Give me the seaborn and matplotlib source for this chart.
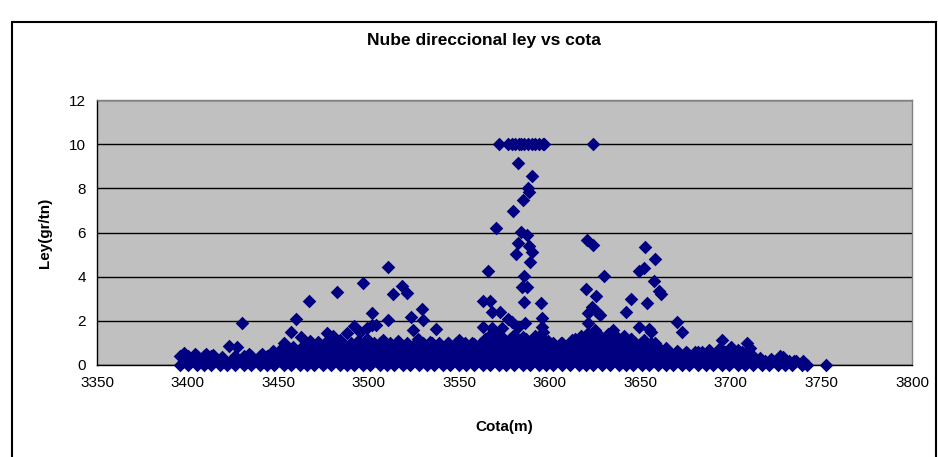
import matplotlib
matplotlib.use("Agg")
import matplotlib.pyplot as plt
import seaborn as sns
import pandas as pd
from matplotlib.patches import Rectangle

# ----------------------------------------------------------
# Datos: cota (m) y ley (gr/tn)
# ----------------------------------------------------------

# nube densa cerca de cero, por niveles de ley
band_levels = [0.0, 0.2, 0.4, 0.6, 0.8, 1.0, 1.2]
band0_x = [3396, 3400, 3405, 3409, 3413, 3418, 3422, 3426, 3431, 3435, 3440, 3444, 3448, 3453,
           3457, 3462, 3466, 3470, 3475, 3479, 3484, 3488, 3492, 3497, 3501, 3506, 3510, 3514,
           3519, 3523, 3528, 3532, 3536, 3541, 3545, 3550, 3554, 3558, 3563, 3567, 3572, 3576,
           3580, 3585, 3589, 3594, 3598, 3602, 3607, 3611, 3616, 3620, 3624, 3629, 3633, 3638,
           3642, 3646, 3651, 3655, 3660, 3664, 3668, 3673, 3677, 3682, 3686, 3690, 3695, 3699,
           3704, 3708, 3712, 3717, 3721, 3726, 3730, 3734, 3739, 3742]
band1_x = [3398, 3402, 3407, 3411, 3415, 3420, 3424, 3429, 3433, 3437, 3442, 3446, 3451, 3455,
           3459, 3464, 3468, 3473, 3477, 3481, 3486, 3490, 3495, 3499, 3503, 3508, 3512, 3517,
           3521, 3525, 3530, 3534, 3539, 3543, 3547, 3552, 3556, 3561, 3565, 3569, 3574, 3578,
           3583, 3587, 3591, 3596, 3600, 3605, 3609, 3613, 3618, 3622, 3627, 3631, 3635, 3640,
           3644, 3649, 3653, 3657, 3662, 3666, 3671, 3675, 3679, 3684, 3688, 3693, 3697, 3701,
           3706, 3710, 3715, 3719, 3723, 3728, 3732, 3736, 3740]
band2_x = [3396, 3400, 3405, 3409, 3413, 3426, 3431, 3435, 3440, 3444, 3448, 3453, 3457, 3462,
           3466, 3470, 3475, 3479, 3484, 3488, 3492, 3497, 3501, 3506, 3510, 3514, 3519, 3523,
           3528, 3532, 3536, 3541, 3545, 3550, 3554, 3558, 3563, 3567, 3572, 3576, 3580, 3585,
           3589, 3594, 3598, 3602, 3607, 3611, 3616, 3620, 3624, 3629, 3633, 3638, 3642, 3646,
           3651, 3655, 3660, 3664, 3668, 3673, 3677, 3682, 3686, 3690, 3695, 3699, 3704, 3708,
           3712, 3727]
band3_x = [3451, 3455, 3460, 3464, 3468, 3473, 3477, 3482, 3486, 3490, 3495, 3499, 3504, 3508,
           3512, 3517, 3521, 3526, 3530, 3534, 3539, 3543, 3548, 3552, 3556, 3561, 3565, 3570,
           3574, 3578, 3583, 3587, 3592, 3596, 3600, 3605, 3609, 3614, 3618, 3622, 3627, 3631,
           3636, 3640, 3644, 3649, 3653, 3658, 3662, 3666, 3671, 3675, 3680, 3684, 3688, 3693,
           3697, 3702, 3706]
band4_x = [3454, 3458, 3463, 3467, 3471, 3476, 3480, 3485, 3489, 3493, 3498, 3502, 3507, 3511,
           3515, 3520, 3524, 3529, 3533, 3537, 3542, 3546, 3551, 3555, 3559, 3564, 3568, 3573,
           3577, 3581, 3586, 3590, 3595, 3599, 3603, 3608, 3612, 3617, 3621, 3625, 3630, 3634,
           3639, 3643, 3647, 3652, 3656, 3660]
band5_x = [3472, 3476, 3481, 3485, 3490, 3494, 3499, 3503, 3508, 3512, 3517, 3521, 3526, 3530,
           3535, 3539, 3544, 3548, 3553, 3557, 3562, 3566, 3571, 3575, 3580, 3584, 3589, 3593,
           3598, 3602, 3607, 3611, 3616, 3620, 3625, 3629, 3634, 3638, 3643, 3647, 3652, 3656]
band6_x = [3564, 3569, 3573, 3578, 3582, 3587, 3591, 3596, 3614, 3618, 3623, 3627, 3632, 3636,
           3641, 3645]

# borde superior irregular de la nube
edge_x = [3398, 3404, 3410, 3414, 3419, 3434, 3441, 3447, 3452, 3465, 3472, 3478, 3485, 3494,
          3508, 3516, 3527, 3534, 3544, 3550, 3558, 3566, 3571, 3575, 3580, 3585, 3592, 3599,
          3606, 3612, 3617, 3621, 3627, 3632, 3637, 3641, 3645, 3652, 3658, 3664, 3670, 3676,
          3682, 3688, 3694, 3700, 3704, 3716, 3722, 3729, 3735, 3740]
edge_y = [0.55, 0.50, 0.52, 0.45, 0.35, 0.48, 0.50, 0.62, 0.75, 0.90, 1.05, 0.95, 1.05, 1.10,
          1.15, 1.10, 1.20, 1.05, 1.00, 1.12, 0.95, 1.25, 1.30, 1.20, 1.35, 1.25, 1.30, 1.10,
          1.00, 1.15, 1.30, 1.45, 1.35, 1.40, 1.25, 1.30, 1.20, 1.15, 1.00, 0.75, 0.65, 0.55,
          0.60, 0.70, 0.75, 0.80, 0.70, 0.30, 0.25, 0.35, 0.20, 0.15]

# valores aislados por encima de la nube
out_x = [3423, 3427.5, 3430, 3453, 3457, 3460, 3462.5, 3467, 3467.6, 3476.8, 3480.5, 3482.7,
         3484.2, 3488, 3492, 3495.2, 3496.7, 3499, 3499, 3501.7, 3502, 3504, 3506.3, 3510.5,
         3510.5, 3513.6, 3518.6, 3521.4, 3523.1, 3524.6, 3529.2, 3530.2, 3537.2,
         3562.9, 3563.3, 3565.7, 3567, 3567, 3567.9, 3567.9, 3570.3, 3572.5, 3573.4, 3577.1,
         3579, 3579.9, 3581.4, 3582.6, 3582.6, 3582.6, 3584.1, 3584.5, 3585.1, 3586, 3586,
         3586.3, 3587.3, 3587.3, 3587.8, 3588.7, 3588.7, 3589.1, 3590, 3590.4, 3595, 3595.5,
         3595.5, 3596,
         3572, 3577, 3579, 3581, 3583, 3584, 3586, 3588, 3590, 3592, 3594, 3596, 3597, 3623.7,
         3620.7, 3623.7, 3630, 3620, 3625.5, 3623.2, 3621.3, 3625.9, 3627.7, 3621.3, 3634.7, 3625,
         3652.6, 3658.1, 3649.4, 3652, 3657.7, 3660.5, 3661.4, 3644.7, 3653.5, 3642.1, 3649.3,
         3655, 3655.7, 3670, 3672.8, 3650.2,
         3694.9, 3708.7, 3710.6, 3752.3]
out_y = [0.86, 0.83, 1.90, 0.98, 1.50, 2.07, 1.26, 2.91, 1.10, 1.43, 1.31, 3.29,
         1.13, 1.43, 1.75, 1.51, 3.73, 1.66, 1.16, 1.81, 2.34, 1.81, 0.98, 4.42,
         2.04, 3.22, 3.59, 3.28, 2.19, 1.58, 2.54, 2.04, 1.63,
         2.91, 1.71, 4.26, 2.91, 1.21, 2.41, 1.66, 6.22, 2.41, 1.66, 2.07,
         1.96, 6.96, 5.01, 9.13, 5.54, 1.73, 6.04, 3.55, 7.47, 4.03, 2.84,
         1.92, 5.89, 3.55, 8.00, 7.82, 5.39, 4.68, 5.13, 8.57, 2.79, 2.11,
         1.73, 1.51,
         10, 10, 10, 10, 10, 10, 10, 10, 10, 10, 10, 10, 10, 10,
         5.66, 5.43, 4.04, 3.43, 3.14, 2.64, 2.34, 2.41, 2.26, 1.89, 1.58, 1.58,
         5.36, 4.79, 4.27, 4.38, 3.80, 3.35, 3.20, 2.97, 2.79, 2.38, 1.71,
         1.61, 1.48, 1.93, 1.48, 1.01,
         1.13, 0.98, 0.78, 0.0]

x_ticks = [3350, 3400, 3450, 3500, 3550, 3600, 3650, 3700, 3750, 3800]
y_ticks = [0, 2, 4, 6, 8, 10, 12]

# ----------------------------------------------------------
# Tabla unica de puntos
# ----------------------------------------------------------

band_rows = [band0_x, band1_x, band2_x, band3_x, band4_x, band5_x, band6_x]
cota, ley = [], []
for lvl, xs in zip(band_levels, band_rows):
    cota += xs
    ley += [lvl] * len(xs)
cota += edge_x + out_x
ley += edge_y + out_y
df = pd.DataFrame({"cota": cota, "ley": ley})

# ----------------------------------------------------------
# Grafico
# ----------------------------------------------------------

sns.set_style("white")
plt.rcParams["font.family"] = ["Liberation Sans", "DejaVu Sans"]
plt.rcParams["text.color"] = "black"
plt.rcParams["axes.labelcolor"] = "black"
plt.rcParams["xtick.color"] = "black"
plt.rcParams["ytick.color"] = "black"

fig = plt.figure(figsize=(9.38, 4.57), dpi=100)
ax = fig.add_axes([97 / 938, 92 / 457, 815 / 938, 265 / 457])
ax.set_facecolor("#C0C0C0")

sns.scatterplot(data=df, x="cota", y="ley", marker="D", color="#000080",
                s=48, linewidth=0, ax=ax, zorder=3)
for coll in ax.collections:
    coll.set_clip_on(False)

ax.set_xlim(3350, 3800)
ax.set_ylim(0, 12)
ax.set_xticks(x_ticks)
ax.set_yticks(y_ticks)
ax.yaxis.grid(True, color="black", linewidth=1)
ax.xaxis.grid(False)
ax.set_axisbelow(True)

for side in ["left", "bottom"]:
    ax.spines[side].set_color("black")
    ax.spines[side].set_linewidth(1)
for side in ["top", "right"]:
    ax.spines[side].set_color("#808080")
    ax.spines[side].set_linewidth(1)

ax.tick_params(axis="both", direction="out", length=4, width=1, color="black",
               labelcolor="black", labelsize=11, pad=4)
ax.set_xlabel("Cota(m)", fontsize=11, fontweight="bold")
ax.set_ylabel("Ley(gr/tn)", fontsize=11, fontweight="bold")
ax.xaxis.set_label_coords(0.5, -0.208)
ax.yaxis.set_label_coords(-0.055, 0.5)

fig.text(484 / 938, 1 - 40 / 457, "Nube direccional ley vs cota",
         ha="center", va="center", fontsize=12.5, fontweight="bold")

# marco del area del grafico
fig.patches.append(Rectangle((12 / 938, -0.05), 924 / 938, 1.05 - 22 / 457,
                             transform=fig.transFigure, fill=False,
                             edgecolor="black", linewidth=1.5))

fig.savefig("out.png", dpi=100)
